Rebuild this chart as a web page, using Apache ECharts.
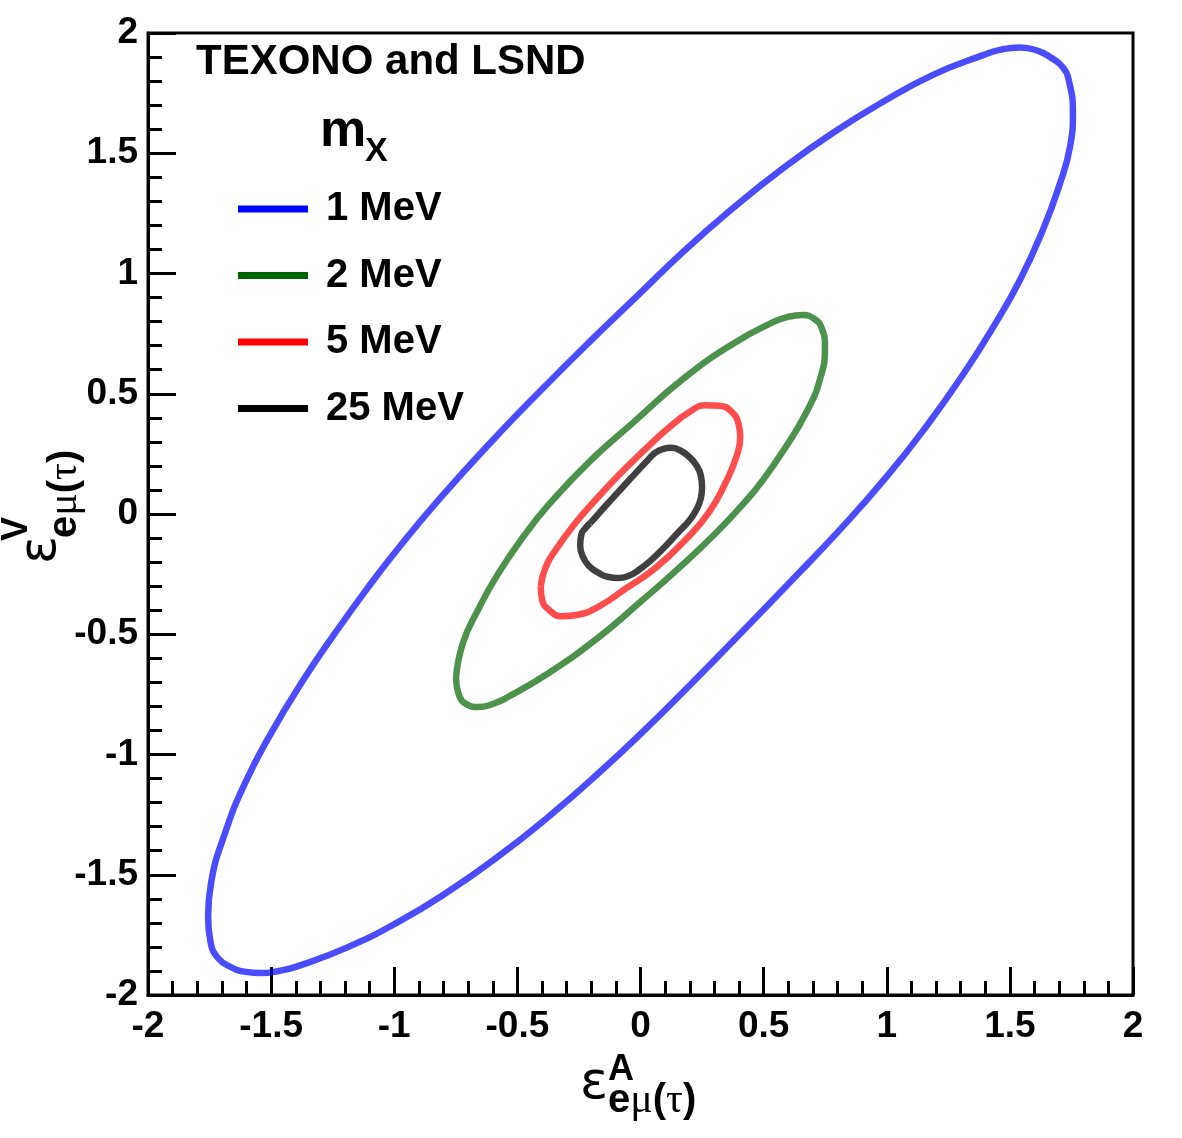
<!DOCTYPE html>
<html>
<head>
<meta charset="utf-8">
<script src="https://cdn.jsdelivr.net/npm/echarts@6/dist/echarts.min.js"></script>
<style>
  html, body { margin: 0; padding: 0; background: #fff; }
  #chart { width: 1182px; height: 1138px; }
</style>
</head>
<body>
<div id="chart"></div>
<script>
// contour points [eps_A, eps_V], closed loops
var contour1MeV = [
  [-1.756, -1.676], [-1.744, -1.534], [-1.687, -1.326], [-1.606, -1.119], [-1.500, -0.911],
  [-1.378, -0.704], [-1.241, -0.496], [-1.107, -0.306], [-0.973, -0.129], [-0.811, 0.069],
  [-0.60, 0.307], [-0.40, 0.519], [-0.20, 0.723], [-0.03, 0.890], [0.173, 1.090],
  [0.376, 1.272], [0.578, 1.437], [0.782, 1.585], [0.985, 1.714], [1.188, 1.826],
  [1.391, 1.908], [1.459, 1.930], [1.541, 1.940], [1.617, 1.925], [1.663, 1.900],
  [1.714, 1.859], [1.740, 1.800], [1.756, 1.667], [1.744, 1.526], [1.704, 1.376],
  [1.634, 1.181], [1.541, 0.973], [1.431, 0.775], [1.310, 0.580], [1.159, 0.362],
  [0.997, 0.152], [0.811, -0.064], [0.60, -0.291], [0.40, -0.503], [0.20, -0.712],
  [0.03, -0.885], [-0.173, -1.080], [-0.376, -1.261], [-0.579, -1.425], [-0.782, -1.571],
  [-0.985, -1.697], [-1.188, -1.801], [-1.391, -1.880], [-1.470, -1.900], [-1.541, -1.909],
  [-1.603, -1.904], [-1.663, -1.884], [-1.716, -1.846], [-1.746, -1.780], [-1.756, -1.676]
];
var contour2MeV = [
  [-0.749, -0.678], [-0.721, -0.536], [-0.660, -0.399], [-0.579, -0.250], [-0.469, -0.085],
  [-0.376, 0.035], [-0.20, 0.225], [-0.03, 0.380], [0.173, 0.562], [0.376, 0.708],
  [0.538, 0.798], [0.600, 0.820], [0.660, 0.827], [0.705, 0.812], [0.735, 0.775],
  [0.749, 0.694], [0.728, 0.557], [0.672, 0.420], [0.590, 0.279], [0.497, 0.141],
  [0.420, 0.045], [0.30, -0.085], [0.15, -0.230], [0.0, -0.365], [-0.173, -0.515],
  [-0.376, -0.663], [-0.538, -0.761], [-0.600, -0.790], [-0.660, -0.803], [-0.705, -0.792],
  [-0.735, -0.758], [-0.749, -0.678]
];
var contour5MeV = [
  [-0.405, -0.30], [-0.385, -0.22], [-0.345, -0.15], [-0.27, -0.045], [-0.19, 0.05],
  [-0.085, 0.165], [0.01, 0.26], [0.105, 0.35], [0.20, 0.425], [0.265, 0.452],
  [0.32, 0.450], [0.37, 0.425], [0.398, 0.375], [0.405, 0.32], [0.39, 0.24],
  [0.35, 0.14], [0.28, 0.01], [0.18, -0.11], [0.06, -0.225], [-0.06, -0.31],
  [-0.17, -0.385], [-0.26, -0.42], [-0.32, -0.425], [-0.37, -0.40], [-0.40, -0.355],
  [-0.405, -0.30]
];
var contour25MeV = [
  [-0.205, -0.039], [-0.145, 0.030], [-0.083, 0.100], [-0.020, 0.170], [0.030, 0.225],
  [0.060, 0.255], [0.090, 0.270], [0.125, 0.275], [0.160, 0.265], [0.195, 0.240],
  [0.225, 0.205], [0.245, 0.160], [0.250, 0.110], [0.245, 0.065], [0.228, 0.020],
  [0.200, -0.025], [0.150, -0.080], [0.100, -0.135], [0.040, -0.195], [-0.010, -0.235],
  [-0.050, -0.258], [-0.090, -0.266], [-0.130, -0.262], [-0.170, -0.245], [-0.210, -0.215],
  [-0.235, -0.175], [-0.245, -0.130], [-0.240, -0.085], [-0.225, -0.060], [-0.205, -0.039]
];
var massLabels = ['1 MeV', '2 MeV', '5 MeV', '25 MeV'];
var tickLabels = ['-2', '-1.5', '-1', '-0.5', '0', '0.5', '1', '1.5', '2'];

var contours = [contour1MeV, contour2MeV, contour5MeV, contour25MeV];
var solidColors = ['#0000ff', '#006400', '#ff0000', '#000000'];
var lineColors = ['rgba(0,0,255,0.7)', 'rgba(0,100,0,0.7)', 'rgba(255,0,0,0.7)', 'rgba(0,0,0,0.75)'];

var FONT = '"Liberation Sans", Arial, Helvetica, sans-serif';

var chart = echarts.init(document.getElementById('chart'));

function axisCfg() {
  return {
    type: 'value',
    min: -2,
    max: 2,
    interval: 0.5,
    splitLine: { show: false },
    axisLine: { onZero: false, lineStyle: { color: '#000', width: 3 } },
    axisTick: { inside: true, length: 28, lineStyle: { color: '#000', width: 3 } },
    minorTick: { show: true, splitNumber: 5, length: 14, lineStyle: { color: '#000', width: 3 } },
    axisLabel: {
      color: '#000',
      fontSize: 37,
      fontWeight: 'bold',
      fontFamily: FONT,
      formatter: function (v) { return tickLabels[Math.round((v + 2) / 0.5)]; }
    }
  };
}

var xAx = axisCfg();
xAx.axisLabel.margin = 13;
var yAx = axisCfg();
yAx.axisLabel.margin = 10;

var series = contours.map(function (pts, i) {
  return {
    name: massLabels[i],
    type: 'line',
    data: pts,
    symbol: 'none',
    smooth: 0.5,
    z: 2 + i,
    itemStyle: { color: solidColors[i] },
    lineStyle: { color: lineColors[i], width: 6.5 }
  };
});

var subRich = {
  b: { fontSize: 40, fontWeight: 'bold', fontFamily: FONT, color: '#000' },
  g: { fontSize: 42, fontFamily: '"Liberation Serif", serif', color: '#000' }
};

chart.setOption({
  animation: false,
  backgroundColor: '#fff',
  grid: {
    left: 148, top: 33, right: 49, bottom: 143,
    show: true, borderColor: '#000', borderWidth: 3, backgroundColor: 'transparent'
  },
  xAxis: xAx,
  yAxis: yAx,
  legend: {
    orient: 'vertical',
    left: 238,
    top: 189,
    padding: 0,
    icon: 'rect',
    itemWidth: 70,
    itemHeight: 7,
    itemGap: 26.5,
    data: massLabels.map(function (n, i) {
      return { name: n, itemStyle: { color: solidColors[i] } };
    }),
    textStyle: {
      color: '#000', fontSize: 40, fontWeight: 'bold', fontFamily: FONT,
      lineHeight: 40, padding: [0, 0, 0, 13]
    }
  },
  graphic: [
    { type: 'text', x: 196, y: 62,
      style: { text: 'TEXONO and LSND', font: 'bold 42px ' + FONT, fill: '#000', verticalAlign: 'middle' } },
    { type: 'text', x: 320, y: 132,
      style: { text: 'm', font: 'bold 52px ' + FONT, fill: '#000', verticalAlign: 'middle' } },
    { type: 'text', x: 365, y: 152,
      style: { text: 'X', font: 'bold 34px ' + FONT, fill: '#000', verticalAlign: 'middle' } },
    // x axis title
    { type: 'text', x: 580, y: 1084,
      style: { text: 'ε', font: '52px "DejaVu Sans"', fill: '#000', verticalAlign: 'middle' } },
    { type: 'text', x: 608, y: 1070,
      style: { text: 'A', font: 'bold 36px ' + FONT, fill: '#000', verticalAlign: 'middle' } },
    { type: 'text', x: 608, y: 1101,
      style: { text: '{b|e}{g|μ}{b|(}{g|τ}{b|)}', verticalAlign: 'middle', rich: subRich } },
    // y axis title
    { type: 'text', x: 41, y: 564, rotation: Math.PI / 2,
      style: { text: 'ε', font: '52px "DejaVu Sans"', fill: '#000', verticalAlign: 'middle' } },
    { type: 'text', x: 17, y: 541, rotation: Math.PI / 2,
      style: { text: 'V', font: 'bold 36px ' + FONT, fill: '#000', verticalAlign: 'middle' } },
    { type: 'text', x: 65, y: 538, rotation: Math.PI / 2,
      style: { text: '{b|e}{g|μ}{b|(}{g|τ}{b|)}', verticalAlign: 'middle', rich: subRich } }
  ],
  series: series
});
</script>
</body>
</html>
